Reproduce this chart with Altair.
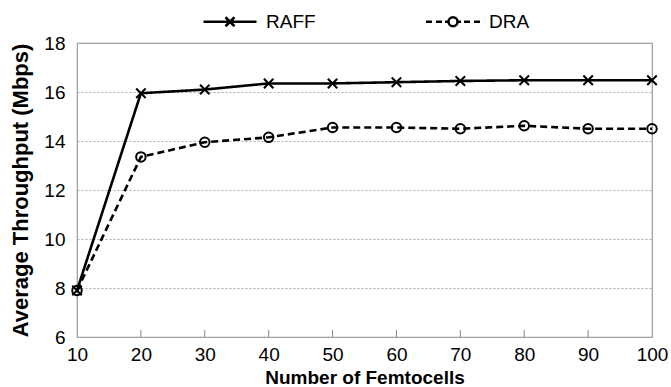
import altair as alt
import pandas as pd

femtocells = [10, 20, 30, 40, 50, 60, 70, 80, 90, 100]
raff = [7.9, 15.95, 16.1, 16.35, 16.35, 16.4, 16.45, 16.48, 16.48, 16.48]
dra = [7.9, 13.35, 13.95, 14.15, 14.55, 14.55, 14.5, 14.62, 14.5, 14.5]
series_names = ["RAFF", "DRA"]
x_ticks = [10, 20, 30, 40, 50, 60, 70, 80, 90, 100]
inner_ticks = [20, 30, 40, 50, 60, 70, 80, 90]
y_ticks = [6, 8, 10, 12, 14, 16, 18]

df = pd.DataFrame({
    "n": femtocells * 2,
    "v": raff + dra,
    "series": ["RAFF"] * len(femtocells) + ["DRA"] * len(femtocells),
})

W, H = 575, 294
FONT = "Liberation Sans"

x_enc = alt.X("n:Q", scale=alt.Scale(domain=[10, 100], nice=False),
              axis=alt.Axis(values=x_ticks, title="Number of Femtocells", grid=False,
                            ticks=False, domain=False, labelFlush=False,
                            labelPadding=8, titlePadding=4, titleFontSize=19))
y_enc = alt.Y("v:Q", scale=alt.Scale(domain=[6, 18], nice=False),
              axis=alt.Axis(values=y_ticks, title="Average Throughput (Mbps)", grid=True,
                            ticks=False, domain=False, labelPadding=12, titlePadding=11,
                            titleFontSize=22))

x_path = "M-1,-1L1,1M-1,1L1,-1"
legend_raff = "M-5.3,0L5.3,0M-0.9,-0.9L0.9,0.9M-0.9,0.9L0.9,-0.9"
legend_dra = ("M-5.4,0L-4.2,0M-3.4,0L-2.2,0M-1.6,0L-1.0,0M1.0,0L1.6,0M2.2,0L3.4,0M4.2,0L5.4,0"
              "M0.9,0A0.9,0.9 0 1,1 -0.9,0A0.9,0.9 0 1,1 0.9,0Z")

base = alt.Chart(df)

line = base.mark_line(color="black", strokeWidth=2.6).encode(
    x=x_enc, y=y_enc,
    strokeDash=alt.StrokeDash("series:N",
                              scale=alt.Scale(domain=series_names, range=[[1, 0], [7, 4]]),
                              legend=None),
)

points = base.mark_point(color="black", strokeWidth=2, filled=False, size=90, opacity=1).encode(
    x=x_enc, y=y_enc,
    shape=alt.Shape("series:N",
                    scale=alt.Scale(domain=series_names, range=[x_path, "circle"]),
                    legend=None),
)

legend_layer = base.mark_point(color="black", strokeWidth=2, filled=False, size=0, opacity=0).encode(
    x=x_enc, y=y_enc,
    shape=alt.Shape("series:N",
                    scale=alt.Scale(domain=series_names, range=[legend_raff, legend_dra]),
                    legend=alt.Legend(
                        title=None, orient="none", direction="horizontal",
                        legendX=143.5, legendY=-31, padding=0,
                        symbolSize=100, symbolStrokeWidth=2.5, symbolStrokeColor="black",
                        symbolFillColor="transparent", symbolOpacity=1,
                        labelFont=FONT, labelFontSize=19, labelColor="black",
                        labelOffset=26.5, columnPadding=104,
                    )),
)

ticks = alt.Chart(pd.DataFrame({"t": inner_ticks})).mark_rule(color="#888888", strokeWidth=1).encode(
    x=alt.X("t:Q", scale=alt.Scale(domain=[10, 100], nice=False)),
    y=alt.value(H), y2=alt.value(H - 7),
)

chart = alt.layer(ticks, line, points, legend_layer).resolve_scale(
    shape="independent"
).properties(
    width=W, height=H,
    padding={"left": 77, "top": 43, "right": 19, "bottom": 50},
    autosize=alt.AutoSizeParams(type="none"),
).configure_view(
    stroke="#999999", strokeWidth=1.2,
).configure_axis(
    labelFont=FONT, labelFontSize=19, labelColor="black",
    titleFont=FONT, titleFontWeight="bold", titleColor="black",
    gridColor="#aaaaaa", gridDash=[2, 2], gridWidth=1,
)

chart.save("out.html", embed_options={"renderer": "svg", "actions": False})
